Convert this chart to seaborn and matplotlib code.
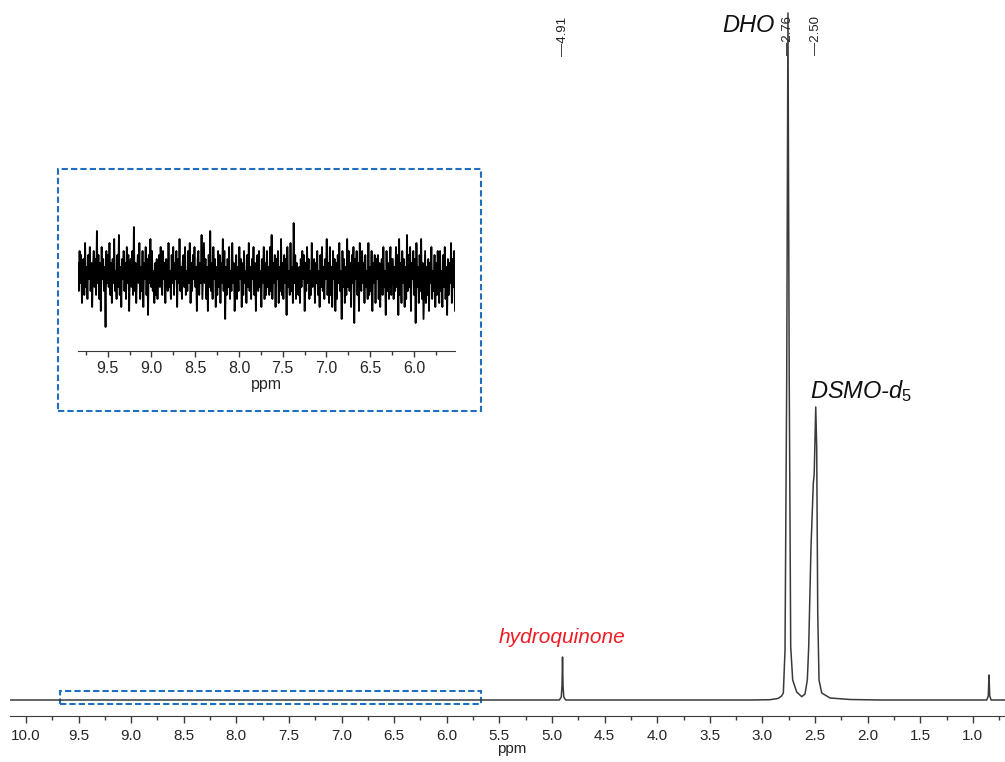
import numpy as np
import matplotlib
matplotlib.use("Agg")
import matplotlib.pyplot as plt
from matplotlib.patches import Rectangle
from matplotlib.ticker import MultipleLocator, FormatStrFormatter
import matplotlib.transforms as mtransforms
import seaborn as sns

# main 1H NMR trace (ppm, intensity in px above baseline)
spec_ppm = [10.15, 5.00, 4.93, 4.912, 4.905, 4.90, 4.895, 4.888, 4.87,
            3.10, 2.928, 2.852, 2.818, 2.801, 2.785, 2.769, 2.757, 2.745,
            2.731, 2.712, 2.674, 2.626, 2.595, 2.573, 2.560, 2.538, 2.516,
            2.508, 2.493, 2.484, 2.474, 2.462, 2.436, 2.357, 2.167, 1.882,
            0.90, 0.868, 0.853, 0.846, 0.839, 0.826, 0.69]
spec_int = [0, 0, 0, 3, 14, 43, 14, 3, 0,
            0, 0.3, 1.5, 4, 7, 50, 320, 687, 320,
            53, 20, 8, 3.3, 6, 20, 53, 153, 217,
            225, 293, 253, 87, 20, 7, 2, 0.5, 0,
            0, 0, 4, 25, 4, 0, 0]

# peak labels
peak_labels = ["4.91", "2.76", "2.50"]
peak_pos = [4.90, 2.757, 2.49]

# zoomed region (inset)
zoom_lo, zoom_hi = 5.675, 9.677
inset_lo, inset_hi = 5.53, 9.84
noise = [3, -4, 6, -2, 5, -7, 1, 4, -5, 8, -3, 2, -6, 5, -1, 7, -4, 3, -8, 2,
         6, -3, 4, -5, 11, -2, 5, -6, 3, -9, 7, -1, 4, -4, 2, -13, 6, -2, 5, -3,
         8, -5, 3, -7, 4, -2, 9, -4, 1, -6, 5, -3, 10, -5, 2, -8, 4, -1, 6, -4,
         3, -6, 7, -2, 5, -9, 2, 4, -3, 6, -5, 12, -4, 3, -7, 1, 5, -2, 8, -6,
         2, -4, 6, -8, 3, -1, 7, -5, 4, -10, 5, -2, 9, -3, 6, -4, 1, -7, 3, -5,
         4, -6, 1, 5, -3, 7, -2, -5, 6, -1, 3, -7, 4, 2, -4, 8, -3, 1, -6, 5,
         -2, 7, -5, 3, -1, 6, -8, 4, -2, 9, -4, 2, -6, 3, 5, -3, 7, -5, 1, -4,
         6, -2, 8, -7, 3, -4, 5, -1, 7, -3, 2, -9, 4, 6, -5, 3, -2, 10, -6, 1,
         8, -2, 4, -6, 2, -9, 5, -3, 11, -4, 3, -6, 7, -1, 4, -8, 2, -5, 6, -3,
         5, -7, 3, -2, 9, -4, 6, -11, 2, -5, 4, -3, 7, -6, 1, -4, 8, -2, 3, -9,
         -3, 5, -6, 2, -4, 7, -1, 4, -8, 3, -5, 6, -2, 1, -7, 5, -3, 8, -4, 2,
         -6, 4, -1, 7, -5, 3, -9, 2, 5, -4, 6, -3, 1, -8, 4, -2, 7, -6, 3, -5,
         6, -3, 2, -5, 7, -4, 10, -6, 3, -2, 5, -8, 4, -1, 6, -7, 2, -4, 9, -5,
         3, -6, 5, -2, 4, -10, 7, -3, 1, -5, 8, -4, 2, -7, 13, -2, 5, -6, 3, -4,
         -5, 2, -7, 4, -3, 6, -1, 5, -9, 3, -4, 7, -2, 4, -6, 1, -5, 8, -3, 2,
         4, -7, 3, -2, 6, -5, 1, -8, 5, -3, 7, -4, 2, -6, 4, -1, 9, -5, 3, -7,
         7, -5, 2, -8, 6, -1, 4, -9, 3, -6, 5, -2, 8, -4, 1, -11, 6, -3, 4, -7,
         2, -5, 9, -3, 6, -4, 3, -8, 5, -2, 7, -12, 4, -1, 6, -5, 3, -9, 8, -2,
         -4, 6, -2, 3, -7, 5, -3, 1, -6, 8, -5, 2, -4, 6, -9, 3, -2, 5, -7, 4,
         -1, 5, -6, 3, -8, 2, 4, -5, 7, -3, 1, -10, 6, -4, 3, -6, 2, 7, -5, 4,
         4, -6, 2, -4, 7, -3, 5, -10, 9, -5, 3, -7, 6, -2, 4, -8, 2, -6, 10, -4,
         5, -3, 7, -9, 3, -1, 6, -5, 4, -12, 8, -3, 2, -7, 5, -4, 9, -6, 3, -11,
         -3, 6, -7, 2, -5, 4, -9, 3, -2, 7, -6, 1, -4, 5, -8, 3, -5, 6, -2, -7,
         6, -4, 1, -8, 5, -3, 7, -6, 2, -10, 4, -5, 3, -2, 8, -7, 4, -3, 6, -9]
noise_ppm = np.linspace(inset_hi, inset_lo, len(noise))

sns.set_style("white")
plt.rcParams["font.family"] = ["Liberation Sans", "DejaVu Sans"]
plt.rcParams["mathtext.fontset"] = "custom"
plt.rcParams["mathtext.rm"] = "Liberation Sans"
plt.rcParams["mathtext.it"] = "Liberation Sans:italic"

line_col = "#3a3a3a"
blue = "#1f6fc0"

fig = plt.figure(figsize=(10.05, 7.62), dpi=100)
ax = fig.add_axes([10 / 1005, 46 / 762, 995 / 1005, 716 / 762])
sns.lineplot(x=spec_ppm, y=spec_int, ax=ax, color=line_col, linewidth=1.1,
             sort=False, estimator=None)
ax.set_xlim(10.152, 0.694)
ax.set_ylim(-16, 700)
for s in ["left", "right", "top"]:
    ax.spines[s].set_visible(False)
ax.spines["bottom"].set_color(line_col)
ax.set_yticks([])
ax.xaxis.set_major_locator(MultipleLocator(0.5))
ax.xaxis.set_minor_locator(MultipleLocator(0.25))
ax.xaxis.set_major_formatter(FormatStrFormatter("%.1f"))
ax.tick_params(axis="x", which="major", bottom=True, direction="out", length=5,
               width=1, color=line_col, labelsize=11, pad=4)
ax.tick_params(axis="x", which="minor", bottom=True, direction="out", length=3,
               width=1, color=line_col)
ax.set_xlabel("ppm", fontsize=11)
ax.xaxis.set_label_coords(0.5045, -0.037)

# dashed box marking zoom region
ax.add_patch(Rectangle((zoom_hi, -4), zoom_lo - zoom_hi, 13, fill=False,
                       edgecolor=blue, linewidth=1.5, linestyle=(0, (3, 1.5))))

# peak position labels at top
trans = mtransforms.blended_transform_factory(ax.transData, ax.transAxes)
for lab, p in zip(peak_labels, peak_pos):
    ax.text(p, 0.977, "\u2014" + lab, rotation=90, ha="center", va="top",
            fontsize=9.5, color="#222222", transform=trans)

ax.text(2.88, 668, "DHO", fontsize=17, style="italic", ha="right",
        va="baseline", color="#111111")
ax.text(2.548, 302, "DSMO-$d_5$", fontsize=17, style="italic", ha="left",
        va="baseline", color="#111111")
ax.text(4.905, 57, "hydroquinone", fontsize=15, style="italic", ha="center",
        va="baseline", color="#ee1c25")

# inset
fig.patches.append(Rectangle((58 / 1005, 351 / 762), 423 / 1005, 242 / 762,
                             transform=fig.transFigure, fill=False,
                             edgecolor=blue, linewidth=1.5,
                             linestyle=(0, (3, 1.5))))
axi = fig.add_axes([78 / 1005, 411 / 762, 377 / 1005, 140 / 762])
axi.patch.set_alpha(0)
sns.lineplot(x=noise_ppm, y=noise, ax=axi, color="#000000", linewidth=1.3,
             sort=False, estimator=None)
axi.set_xlim(inset_hi, inset_lo)
axi.set_ylim(-19, 16)
for s in ["left", "right", "top"]:
    axi.spines[s].set_visible(False)
axi.spines["bottom"].set_color(line_col)
axi.set_yticks([])
axi.xaxis.set_major_locator(MultipleLocator(0.5))
axi.xaxis.set_minor_locator(MultipleLocator(0.25))
axi.xaxis.set_major_formatter(FormatStrFormatter("%.1f"))
axi.tick_params(axis="x", which="major", bottom=True, direction="out", length=4,
                width=1, color=line_col, labelsize=11.5, pad=3)
axi.tick_params(axis="x", which="minor", bottom=True, direction="out", length=3,
                width=1, color=line_col)
axi.set_xlabel("ppm", fontsize=11.5, labelpad=1)

fig.savefig("out.png", dpi=100)
